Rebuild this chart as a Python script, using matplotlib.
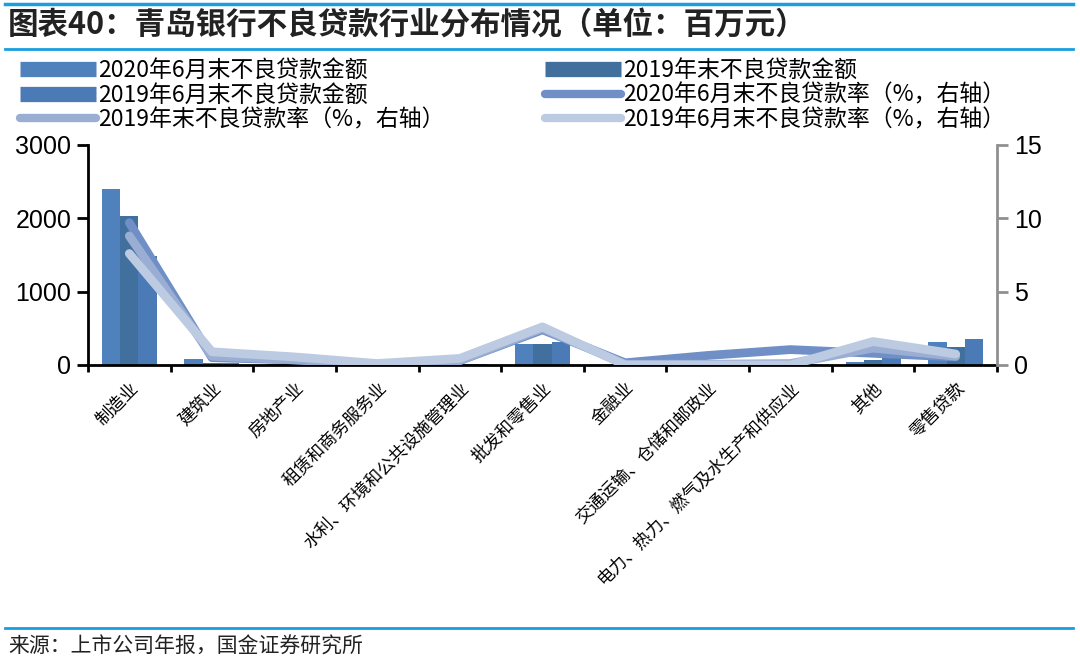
import numpy as np
import matplotlib
matplotlib.use('Agg')
import matplotlib.pyplot as plt
from matplotlib.lines import Line2D

plt.rcParams['font.family'] = ['Noto Sans CJK SC', 'DejaVu Sans']

categories = ['制造业', '建筑业', '房地产业', '租赁和商务服务业', '水利、环境和公共设施管理业',
              '批发和零售业', '金融业', '交通运输、仓储和邮政业', '电力、热力、燃气及水生产和供应业',
              '其他', '零售贷款']

# 不良贷款金额 (百万元)
npl_2020h1 = [2400, 80, 20, 5, 10, 290, 0, 5, 10, 45, 310]
npl_2019ye = [2030, 30, 20, 5, 10, 285, 0, 5, 10, 70, 250]
npl_2019h1 = [1480, 30, 20, 5, 10, 310, 0, 5, 10, 90, 355]

# 不良贷款率 (%, 右轴)
rate_2020h1 = [9.7, 0.5, 0.35, 0.05, 0.3, 2.4, 0.15, 0.65, 1.05, 0.8, 0.55]
rate_2019ye = [8.8, 0.6, 0.35, 0.05, 0.3, 2.5, 0.05, 0.05, 0.1, 1.15, 0.6]
rate_2019h1 = [7.6, 0.9, 0.55, 0.1, 0.45, 2.6, 0.0, 0.0, 0.0, 1.6, 0.75]

bar_colors = ['#4f81bd', '#41709f', '#4a7bb7']
line_colors = ['#6f8fc6', '#9aaed3', '#bccbe2']
blue = '#1a9ee0'

fig = plt.figure(figsize=(10.8, 6.6), dpi=100)
ax = fig.add_axes([88 / 1080, 1 - 365 / 660, (997 - 88) / 1080, 220 / 660])
ax2 = ax.twinx()

x = np.arange(len(categories))
w = 0.222
ax.bar(x - w, npl_2020h1, w, color=bar_colors[0], zorder=2)
ax.bar(x, npl_2019ye, w, color=bar_colors[1], zorder=2)
ax.bar(x + w, npl_2019h1, w, color=bar_colors[2], zorder=2)

for vals, c in zip([rate_2020h1, rate_2019ye, rate_2019h1], line_colors):
    ax2.plot(x, vals, color=c, lw=6.3, solid_capstyle='round', solid_joinstyle='round')

ax.set_xlim(-0.5, len(categories) - 0.5)
ax.set_ylim(0, 3000)
ax.set_yticks([0, 1000, 2000, 3000])
ax2.set_ylim(0, 15)
ax2.set_yticks([0, 5, 10, 15])

# ticks at category boundaries, labels at category centres
ax.set_xticks(np.arange(len(categories) + 1) - 0.5, minor=False)
ax.set_xticklabels([])
ax.set_xticks(x, minor=True)
ax.set_xticklabels(categories, minor=True, rotation=45, ha='right', va='top',
                   rotation_mode='anchor', fontsize=12.5)
ax.tick_params(axis='x', which='major', length=5, width=2, color='black')
ax.tick_params(axis='x', which='minor', length=0, pad=10)

for a in (ax, ax2):
    a.spines['top'].set_visible(False)
ax.spines['right'].set_visible(False)
ax.spines['left'].set_linewidth(2)
ax.spines['bottom'].set_linewidth(2)
ax2.spines['left'].set_visible(False)
ax2.spines['bottom'].set_visible(False)
ax2.spines['right'].set_color('#909090')
ax2.spines['right'].set_linewidth(2)

ax.tick_params(axis='y', length=8, width=2, labelsize=18, pad=4)
ax2.tick_params(axis='y', length=8, width=2, color='#909090', labelsize=18, pad=4)
for lab in ax.get_yticklabels() + ax2.get_yticklabels():
    lab.set_fontfamily(['Liberation Sans', 'DejaVu Sans'])

# legend
handles = [
    Line2D([], [], color=bar_colors[0], lw=11, solid_capstyle='butt'),
    Line2D([], [], color=bar_colors[1], lw=11, solid_capstyle='butt'),
    Line2D([], [], color=bar_colors[2], lw=11, solid_capstyle='butt'),
    Line2D([], [], color=line_colors[0], lw=6, solid_capstyle='round'),
    Line2D([], [], color=line_colors[1], lw=6, solid_capstyle='round'),
    Line2D([], [], color=line_colors[2], lw=6, solid_capstyle='round'),
]
labels = ['2020年6月末不良贷款金额', '2019年末不良贷款金额', '2019年6月末不良贷款金额',
          '2020年6月末不良贷款率（%，右轴）', '2019年末不良贷款率（%，右轴）',
          '2019年6月末不良贷款率（%，右轴）']
order = [0, 2, 4, 1, 3, 5]
fig.legend([handles[i] for i in order], [labels[i] for i in order], ncol=2,
           loc='upper left', bbox_to_anchor=(20 / 1080, 1 - 59 / 660), frameon=False,
           fontsize=16.5, handlelength=3.3, handletextpad=0.1, columnspacing=4.4,
           labelspacing=0.07, borderpad=0, borderaxespad=0)

# title, rules and source
fig.text(8 / 1080, 1 - 25 / 660, '图表40：青岛银行不良贷款行业分布情况（单位：百万元）',
         fontsize=22, fontweight='bold', va='center', ha='left', color='#222222')
fig.add_artist(Line2D([5 / 1080, 1073 / 1080], [1 - 4 / 660, 1 - 4 / 660], color=blue, lw=2.5))
fig.add_artist(Line2D([5 / 1080, 1073 / 1080], [1 - 49 / 660, 1 - 49 / 660], color=blue, lw=2))
fig.add_artist(Line2D([5 / 1080, 1073 / 1080], [1 - 628 / 660, 1 - 628 / 660], color=blue, lw=2))
fig.text(8 / 1080, 1 - 647 / 660, '来源：上市公司年报，国金证券研究所', fontsize=15,
         va='center', ha='left', color='#222222')

fig.savefig('out.png', dpi=100)
